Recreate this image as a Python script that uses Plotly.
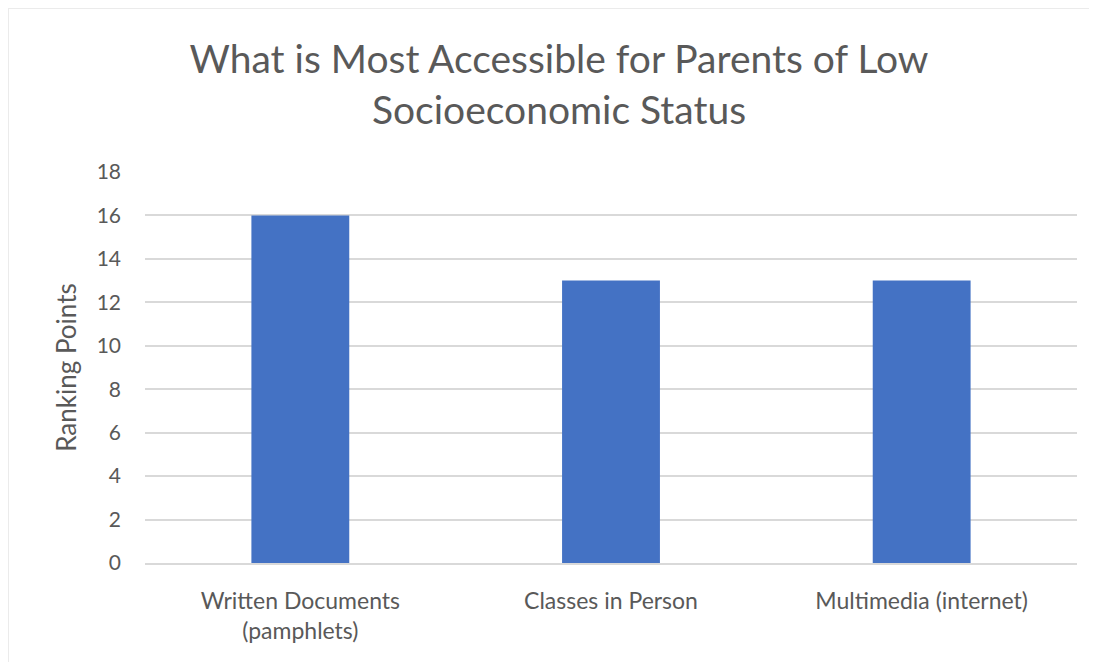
import plotly.graph_objects as go

categories = ["Written Documents<br>(pamphlets)", "Classes in Person", "Multimedia (internet)"]
values = [16, 13, 13]
y_ticks = [0, 2, 4, 6, 8, 10, 12, 14, 16, 18]

FONT = "Lato, 'Open Sans', sans-serif"
GRAY = "#595959"

# page has an 8px body margin, so the figure starts at (8, 8)
W, H = 1089, 654
L, R, T, B = 137, 20, 164, 99
pw, ph = W - L - R, H - T - B

fig = go.Figure(go.Bar(x=categories, y=values, marker=dict(color="#4472C4", line=dict(width=0)),
                       width=0.315))

fig.update_layout(
    width=W, height=H,
    margin=dict(l=L, r=R, t=T, b=B, pad=0),
    paper_bgcolor="white", plot_bgcolor="white",
    font=dict(family=FONT, color=GRAY),
    showlegend=False,
    title=dict(text="What is Most Accessible for Parents of Low<br>Socioeconomic Status",
               x=(559 - 8) / W, xanchor="center", xref="container",
               y=1 - (73 - 8) / H, yref="container", yanchor="middle",
               font=dict(size=39, color=GRAY, family=FONT)),
    xaxis=dict(showgrid=False, showline=True, linecolor="#D9D9D9", linewidth=1.5,
               tickfont=dict(size=23, color=GRAY), ticks="", ticklabelstandoff=17),
    yaxis=dict(range=[0, 18], tickvals=y_ticks, showgrid=True, gridcolor="#D9D9D9", gridwidth=1.5,
               zeroline=False, showline=False, ticks="", ticklen=0, ticklabelstandoff=23,
               tickfont=dict(size=21, color=GRAY),
               title=dict(text="Ranking Points", font=dict(size=26, color=GRAY), standoff=12)),
)
# light frame along the top and left edges of the chart
fig.add_shape(type="line", xref="paper", yref="paper", x0=-L / pw, x1=1 + R / pw,
              y0=1 + T / ph, y1=1 + T / ph, line=dict(color="#EBEBEB", width=2), layer="below")
fig.add_shape(type="line", xref="paper", yref="paper", x0=-L / pw, x1=-L / pw,
              y0=-B / ph, y1=1 + T / ph, line=dict(color="#EBEBEB", width=2), layer="below")

fig.write_html("out.html")
